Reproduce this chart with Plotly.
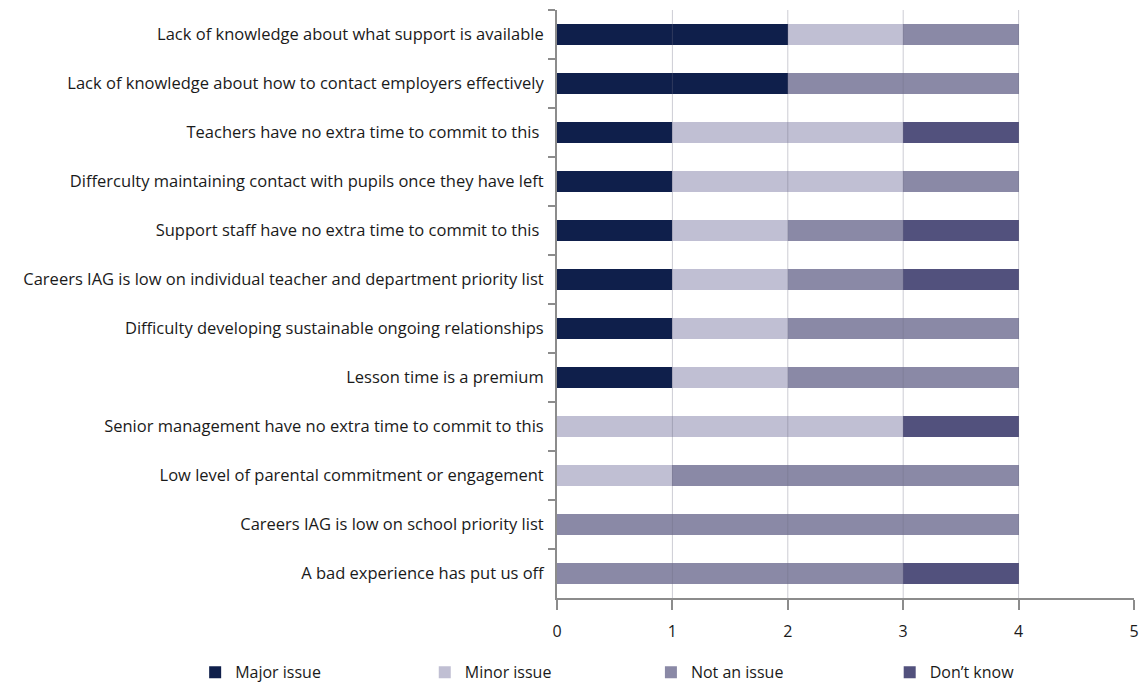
import plotly.graph_objects as go

# Barriers listed top to bottom as they appear on the chart
barriers = [
    "Lack of knowledge about what support is available",
    "Lack of knowledge about how to contact employers effectively",
    "Teachers have no extra time to commit to this ",
    "Differculty maintaining contact with pupils once they have left",
    "Support staff have no extra time to commit to this ",
    "Careers IAG is low on individual teacher and department priority list",
    "Difficulty developing sustainable ongoing relationships",
    "Lesson time is a premium",
    "Senior management have no extra time to commit to this",
    "Low level of parental commitment or engagement",
    "Careers IAG is low on school priority list",
    "A bad experience has put us off",
]

major_issue = [2, 2, 1, 1, 1, 1, 1, 1, 0, 0, 0, 0]
minor_issue = [1, 0, 2, 2, 1, 1, 1, 1, 3, 1, 0, 0]
not_an_issue = [1, 2, 0, 1, 1, 1, 2, 2, 0, 3, 4, 3]
dont_know = [0, 0, 1, 0, 1, 1, 0, 0, 1, 0, 0, 1]

series_names = ["Major issue", "Minor issue", "Not an issue", "Don\u2019t know"]
series_values = [major_issue, minor_issue, not_an_issue, dont_know]
series_colors = ["#0F1F4B", "#C0BFD3", "#8A89A6", "#52517D"]

x_ticks = [0, 1, 2, 3, 4, 5]

# one legend box per series so each key sits at its own spot along the bottom
legend_ids = ["legend", "legend2", "legend3", "legend4"]
legend_x = [0.170, 0.370, 0.567, 0.775]

fig = go.Figure()
for name, vals, col, lg in zip(series_names, series_values, series_colors, legend_ids):
    fig.add_trace(go.Bar(
        y=barriers, x=vals, name=name, orientation="h",
        marker=dict(color=col, line=dict(width=0)),
        legend=lg,
    ))

# Vertical grid lines drawn over the bars
for t in x_ticks[1:-1]:
    fig.add_shape(type="line", xref="x", yref="paper", x0=t, x1=t, y0=0, y1=1,
                  line=dict(color="rgba(110,110,130,0.35)", width=1), layer="above")

legend_style = dict(
    orientation="h", xref="container", yref="container",
    xanchor="left", y=0.02, yanchor="middle",
    font=dict(size=16), bgcolor="rgba(0,0,0,0)",
)

fig.update_layout(
    barmode="stack",
    bargap=0.58,
    width=1148, height=686,
    margin=dict(l=557, r=14, t=10, b=88, autoexpand=False),
    paper_bgcolor="white",
    plot_bgcolor="white",
    font=dict(family="Open Sans, sans-serif", size=16, color="#1a1a1a"),
    showlegend=True,
    legend=dict(x=legend_x[0], **legend_style),
    legend2=dict(x=legend_x[1], **legend_style),
    legend3=dict(x=legend_x[2], **legend_style),
    legend4=dict(x=legend_x[3], **legend_style),
)

fig.update_xaxes(
    range=[0, 5], tickvals=x_ticks, showgrid=False, zeroline=False,
    showline=True, linecolor="#8C8C8C", linewidth=2,
    ticks="outside", ticklen=10, tickwidth=2, tickcolor="#8C8C8C",
    tickfont=dict(size=16), ticklabelstandoff=8, fixedrange=True,
)
fig.update_yaxes(
    type="category", autorange="reversed", categoryorder="array", categoryarray=barriers,
    showline=True, linecolor="#8C8C8C", linewidth=2,
    ticks="outside", ticklen=7, tickwidth=2, tickcolor="#8C8C8C",
    tickson="boundaries", showgrid=False, tickfont=dict(size=16.5),
    ticklabelstandoff=8,
)

fig.write_html("out.html")
